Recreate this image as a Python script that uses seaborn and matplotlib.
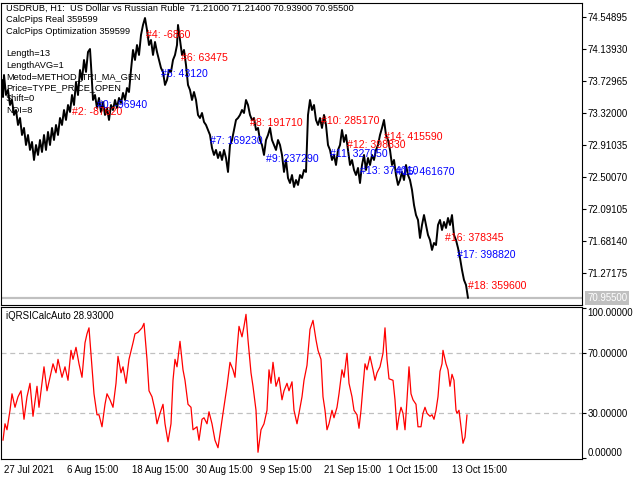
import matplotlib
matplotlib.use("Agg")
import matplotlib.pyplot as plt
from matplotlib import transforms
import seaborn as sns

# ---------------- data ----------------
# bar position (chart time axis, bars from 27 Jul 2021) and close price (USDRUB H1)
bar_pos = [2, 3, 4, 6, 8, 10, 12, 14, 16, 18, 20, 22, 24, 26, 28, 30, 32, 34, 36, 38,
           40, 42, 44, 46, 48, 50, 52, 54, 56, 58, 60, 62, 64, 66, 68, 70, 72, 74, 76, 78,
           80, 82, 84, 86, 88, 90, 91, 93, 95, 97, 99, 101, 103, 105, 107, 109, 111, 113, 115, 117,
           119, 121, 123, 125, 127, 129, 131, 133, 135, 137, 139, 141, 143, 145, 147, 149, 151, 153, 155, 157,
           159, 161, 163, 165, 167, 169, 171, 173, 175, 177, 178, 180, 182, 184, 186, 188, 190, 192, 194, 196,
           198, 200, 202, 204, 206, 208, 210, 212, 214, 216, 218, 220, 222, 224, 226, 228, 230, 232, 234, 236,
           238, 240, 242, 244, 246, 248, 250, 252, 254, 256, 258, 260, 262, 264, 266, 268, 270, 272, 274, 276,
           278, 280, 282, 284, 286, 288, 290, 292, 294, 296, 298, 300, 302, 304, 306, 308, 310, 312, 314, 316,
           318, 320, 322, 324, 326, 328, 330, 332, 334, 336, 338, 340, 342, 344, 346, 348, 350, 352, 354, 356,
           358, 360, 362, 364, 366, 368, 370, 372, 374, 376, 378, 380, 382, 384, 386, 388, 390, 392, 394, 396,
           398, 400, 402, 404, 406, 408, 410, 412, 414, 416, 418, 420, 422, 424, 426, 428, 430, 432, 434, 436,
           438, 440, 442, 444, 446, 448, 450, 452, 454, 456, 458, 460, 462, 464, 466, 468]
close = [73.741, 73.523, 73.804, 73.549, 73.613, 73.421, 73.485, 73.294, 73.357, 73.166,
         73.255, 73.038, 73.128, 72.910, 73.038, 72.847, 72.949, 72.719, 72.910, 72.783,
         72.974, 72.821, 73.038, 72.847, 73.077, 72.910, 73.128, 72.974, 73.166, 73.038,
         73.255, 73.166, 73.357, 73.230, 73.421, 73.332, 73.549, 73.421, 73.715, 73.549,
         73.868, 73.741, 73.996, 73.843, 74.098, 74.136, 73.932, 73.485, 73.549, 73.383,
         73.511, 73.332, 73.460, 73.294, 73.383, 73.230, 73.421, 73.357, 73.485, 73.383,
         73.511, 73.447, 73.575, 73.485, 73.638, 73.587, 73.868, 74.124, 73.996, 74.187,
         74.060, 74.315, 74.443, 74.532, 74.379, 74.187, 74.251, 74.060, 74.226, 74.098,
         73.996, 73.894, 73.843, 73.677, 73.741, 73.868, 73.843, 73.996, 74.060, 74.187,
         74.443, 74.251, 74.060, 74.124, 73.932, 73.677, 73.613, 73.485, 73.587, 73.485,
         73.294, 73.255, 73.319, 73.204, 73.166, 73.102, 73.038, 72.872, 72.783, 72.847,
         72.744, 72.821, 72.719, 72.847, 72.744, 72.566, 72.910, 72.974, 73.102, 73.230,
         73.255, 73.294, 73.357, 73.319, 73.485, 73.421, 73.294, 73.230, 73.255, 73.102,
         73.128, 72.974, 72.910, 72.783, 72.974, 73.038, 73.128, 72.974, 72.910, 72.847,
         72.974, 72.910, 72.783, 72.566, 72.719, 72.489, 72.425, 72.527, 72.374, 72.463,
         72.400, 72.527, 72.489, 72.591, 72.566, 73.294, 73.485, 73.357, 73.421, 73.230,
         73.166, 73.255, 73.128, 73.294, 73.166, 72.910, 72.847, 72.719, 72.783, 72.655,
         72.847, 72.910, 73.102, 72.949, 73.038, 72.847, 72.655, 72.719, 72.591, 72.527,
         72.617, 72.425, 72.655, 72.783, 72.591, 72.744, 72.655, 72.783, 72.719, 72.847,
         72.910, 73.038, 73.128, 73.230, 73.038, 72.974, 72.847, 72.655, 72.719, 72.527,
         72.400, 72.463, 72.566, 72.463, 72.655, 72.527, 72.463, 72.336, 72.144, 72.016,
         71.953, 71.723, 71.889, 72.016, 71.889, 71.761, 71.697, 71.570, 71.659, 71.633,
         71.889, 71.953, 71.825, 71.927, 71.851, 71.978, 71.889, 72.016, 71.761, 71.697,
         71.595, 71.467, 71.314, 71.186, 71.123, 70.957]

# iQRSICalcAuto oscillator
rsi_pos = [3, 5, 7, 10, 12, 15, 18, 21, 24, 27, 30, 33, 37, 39, 42, 44, 47, 50, 53, 56,
           58, 62, 65, 68, 71, 73, 76, 79, 82, 85, 87, 89, 92, 94, 97, 99, 102, 105, 107, 110,
           113, 116, 118, 121, 123, 126, 129, 133, 135, 138, 142, 144, 147, 149, 152, 155, 157, 160, 163, 165,
           168, 171, 173, 175, 177, 180, 183, 185, 188, 191, 193, 197, 199, 202, 204, 207, 209, 212, 215, 218,
           221, 223, 225, 227, 230, 233, 235, 237, 239, 242, 244, 246, 248, 251, 253, 256, 258, 261, 264, 267,
           269, 271, 273, 276, 279, 282, 284, 287, 289, 292, 294, 297, 299, 302, 304, 307, 310, 313, 316, 318,
           321, 323, 325, 327, 329, 332, 334, 337, 339, 342, 344, 347, 349, 352, 354, 357, 359, 361, 363, 365,
           367, 370, 373, 375, 377, 380, 383, 385, 387, 389, 393, 395, 397, 399, 401, 403, 405, 407, 409, 411,
           413, 416, 418, 421, 423, 425, 427, 430, 432, 434, 436, 438, 440, 442, 443, 446, 448, 450, 452, 454,
           456, 457, 459, 461, 463, 465, 467]
rsi_vals = [12, 23, 19, 32, 43, 34, 41, 45, 26, 41, 50, 28, 48, 34, 50, 61, 45, 54, 63, 57,
            66, 54, 61, 52, 72, 66, 74, 63, 54, 77, 83, 87, 61, 43, 29, 29, 21, 36, 43, 39,
            34, 50, 68, 57, 61, 50, 66, 77, 83, 84, 87, 90, 66, 45, 41, 32, 23, 30, 36, 23,
            11, 23, 52, 66, 61, 78, 59, 52, 36, 34, 19, 21, 12, 26, 27, 23, 31, 23, 12, 7,
            21, 30, 39, 48, 64, 59, 54, 72, 88, 81, 88, 96, 79, 57, 48, 32, 4, 19, 23, 32,
            59, 50, 64, 48, 54, 39, 45, 50, 45, 51, 32, 23, 30, 41, 52, 62, 86, 92, 79, 72,
            66, 41, 32, 19, 23, 32, 27, 34, 43, 59, 54, 70, 50, 41, 32, 29, 20, 32, 48, 63,
            59, 68, 59, 52, 57, 61, 70, 87, 66, 53, 52, 39, 19, 28, 34, 30, 19, 39, 61, 43,
            39, 36, 21, 21, 30, 34, 30, 28, 29, 26, 32, 41, 58, 63, 72, 63, 59, 48, 56, 52,
            32, 30, 32, 21, 10, 14, 28.93]

price_ticks = [74.54895, 74.13930, 73.72965, 73.32000, 72.91035, 72.50070, 72.09105, 71.68140, 71.27175]
rsi_ticks = [0, 30, 70, 100]
date_pos = [2, 65, 130, 194, 258, 322, 386, 450]
date_labels = ["27 Jul 2021", "6 Aug 15:00", "18 Aug 15:00", "30 Aug 15:00",
               "9 Sep 15:00", "21 Sep 15:00", "1 Oct 15:00", "13 Oct 15:00"]
last_price = 70.955

ann_text = ["#2: -87620", "#0: -96940", "#4: -6860", "#6: 63475", "#5: 43120",
            "#8: 191710", "#7: 169230", "#9: 237290", "#10: 285170", "#12: 398830",
            "#14: 415590", "#11: 327050", "#13: 374010", "#15: 461670", "#16: 378345",
            "#17: 398820", "#18: 359600"]
ann_pos = [72, 97, 146, 181, 161, 250, 210, 266, 321, 347, 384, 330, 360, 396, 445, 457, 468]
ann_price = [73.332, 73.421, 74.315, 74.022, 73.817, 73.191, 72.961, 72.732, 73.217, 72.910,
             73.013, 72.795, 72.578, 72.566, 71.723, 71.506, 71.110]
ann_color = ["red", "blue", "red", "red", "blue", "red", "blue", "blue", "red", "red",
             "red", "blue", "blue", "blue", "red", "blue", "red"]

header_lines = ["USDRUB, H1:  US Dollar vs Russian Ruble  71.21000 71.21400 70.93900 70.95500",
                "CalcPips Real 359599", "CalcPips Optimization 359599", "",
                "Length=13", "LengthAVG=1", "Metod=METHOD_TRI_MA_GEN", "Price=TYPE_PRICE_OPEN",
                "Shift=0", "NDI=8"]
sub_title = "iQRSICalcAuto 28.93000"

# ---------------- style ----------------
sns.set_style("white")
plt.rcParams["font.family"] = ["Liberation Sans", "DejaVu Sans"]
plt.rcParams["axes.linewidth"] = 0.8
plt.rcParams["axes.edgecolor"] = "black"

W, H = 640, 480
fig = plt.figure(figsize=(6.4, 4.8), dpi=100)
fig.patch.set_facecolor("white")
ax1 = fig.add_axes([1 / W, 1 - 305 / H, 581 / W, 302.5 / H])
ax2 = fig.add_axes([1 / W, 1 - 459 / H, 581 / W, 152 / H])

TFS = 6.9

# main price panel
ax1.axhline(last_price, color="#c0c0c0", lw=1.6, zorder=1)
sns.lineplot(x=bar_pos, y=close, ax=ax1, color="black", lw=1.4, sort=False,
             estimator=None, zorder=3)
ax1.set_xlim(1, 582)
ax1.set_ylim(70.867, 74.730)
ax1.set_xticks([])
ax1.yaxis.tick_right()
ax1.set_yticks(price_ticks)
ax1.set_yticklabels([f"{v:.5f}" for v in price_ticks])
ax1.tick_params(axis="y", direction="out", length=3, width=0.8, pad=1, labelsize=TFS,
                colors="black")
ax1.set_xlabel("")
ax1.set_ylabel("")

for t, xp, pr, c in zip(ann_text, ann_pos, ann_price, ann_color):
    ax1.text(xp, pr, t, color=c, fontsize=7.6, ha="left", va="center", zorder=4,
             family=["Liberation Sans", "DejaVu Sans"])

bt = transforms.blended_transform_factory(ax1.transAxes, ax1.transData)
ax1.text(1.0 + 5 / 581, last_price, f"{last_price:.5f}", transform=bt, ha="left",
         va="center", color="white", fontsize=TFS,
         bbox=dict(boxstyle="square,pad=0.2", fc="#c0c0c0", ec="none"), clip_on=False)

for i, line in enumerate(header_lines):
    if line:
        fig.text(6 / W, 1 - (8.5 + i * 11.3) / H, line, ha="left", va="center",
                 fontsize=6.7, color="black")

# oscillator panel
ax2.axhline(70, color="#c0c0c0", lw=0.9, ls=(0, (4, 3)), zorder=1)
ax2.axhline(30, color="#c0c0c0", lw=0.9, ls=(0, (4, 3)), zorder=1)
sns.lineplot(x=rsi_pos, y=rsi_vals, ax=ax2, color="#ff0000", lw=0.9, sort=False,
             estimator=None, zorder=3)
ax2.set_xlim(1, 582)
ax2.set_ylim(-0.5, 100.9)
ax2.yaxis.tick_right()
ax2.set_yticks(rsi_ticks)
ax2.set_yticklabels([f"{v:.5f}" for v in rsi_ticks])
ax2.tick_params(axis="y", direction="out", length=3, width=0.8, pad=1, labelsize=TFS,
                colors="black")
for lbl, v in zip(ax2.get_yticklabels(), rsi_ticks):
    if v == 100:
        lbl.set_verticalalignment("top")
    elif v == 0:
        lbl.set_verticalalignment("bottom")
ax2.set_xticks(date_pos)
ax2.set_xticklabels(date_labels, ha="left")
ax2.tick_params(axis="x", direction="out", length=4, width=0.8, pad=0.5, labelsize=TFS,
                colors="black")
off = transforms.ScaledTranslation(2 / 100, 0, fig.dpi_scale_trans)
for lbl in ax2.get_xticklabels():
    lbl.set_transform(lbl.get_transform() + off)
ax2.set_xlabel("")
ax2.set_ylabel("")
fig.text(6 / W, 1 - 316 / H, sub_title, ha="left", va="center", fontsize=TFS, color="black")

for ax in (ax1, ax2):
    for s in ax.spines.values():
        s.set_visible(True)
        s.set_color("black")

fig.savefig("out.png", dpi=100, facecolor="white")
